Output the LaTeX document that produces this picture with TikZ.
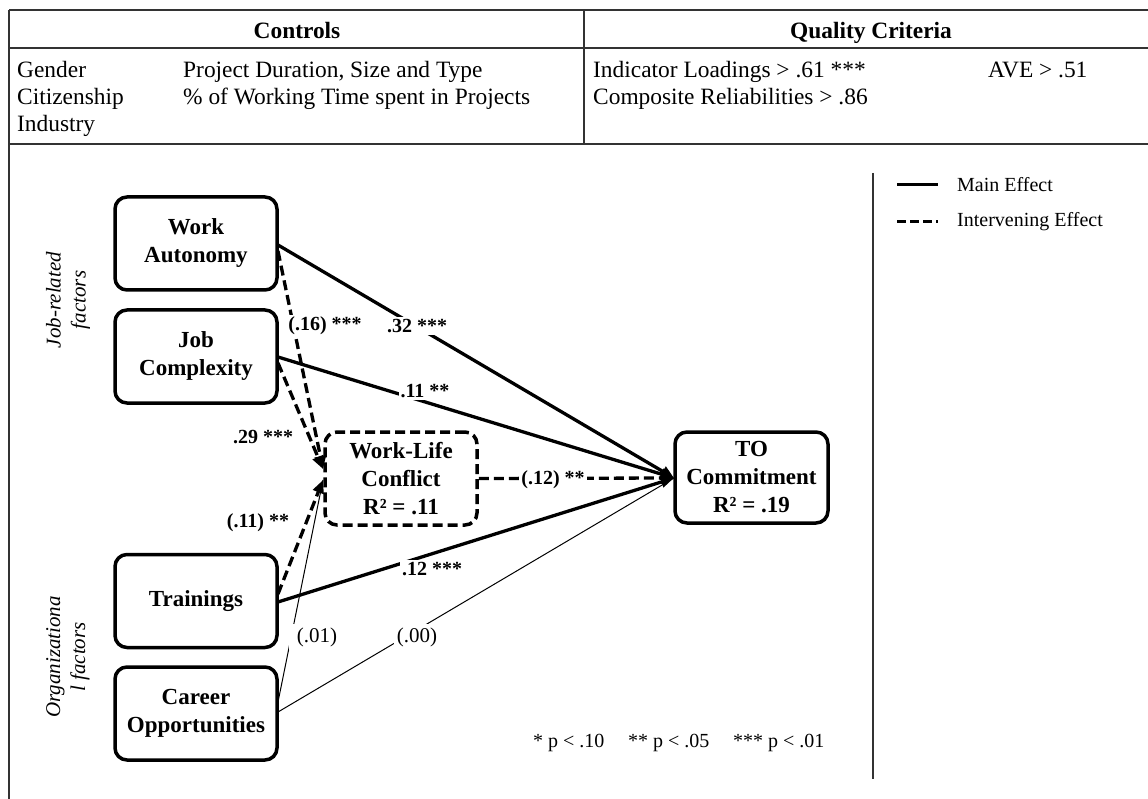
\documentclass[tikz,border=0pt]{standalone}
\usepackage{fontspec}
\setmainfont{Liberation Serif}
\usetikzlibrary{arrows.meta}
\begin{document}
\begin{tikzpicture}[x=1pt,y=-1pt,
  tline/.style={draw=black!80, line width=2pt},
  cell/.style={anchor=base west, inner sep=0pt, font=\fontsize{23.4}{27}\selectfont},
  head/.style={anchor=base, inner sep=0pt, font=\fontsize{23.4}{27}\selectfont\bfseries},
  box/.style={draw, line width=3.5pt, rounded corners=12pt, minimum width=162pt, minimum height=93pt, align=center, inner sep=0pt, font=\fontsize{23}{28}\selectfont\bfseries},
  mainarrow/.style={line width=3.3pt, -{Triangle[length=13pt,width=11pt]}},
  interarrow/.style={line width=3.3pt, dash pattern=on 10pt off 5pt, -{Triangle[length=13pt,width=11pt]}},
  thinarrow/.style={line width=1pt},
  blab/.style={fill=white, inner sep=2pt, font=\fontsize{20}{24}\selectfont\bfseries},
  rlab/.style={fill=white, inner sep=3pt, font=\fontsize{21}{24}\selectfont},
  side/.style={rotate=90, align=center, inner sep=0pt, font=\fontsize{21}{25}\selectfont\itshape},
  note/.style={anchor=west, inner sep=0pt, font=\fontsize{20}{24}\selectfont}
]
\useasboundingbox (0,0) rectangle (1148,799);
\fill[white] (0,0) rectangle (1148,799);

% table
\draw[tline] (9,10) -- (1148,10);
\draw[tline] (9,48) -- (1148,48);
\draw[tline] (9,144) -- (1148,144);
\draw[tline] (9,10) -- (9,799);
\draw[tline] (584,10) -- (584,144);

\node[head] (hc) at (297,39) {Controls};
\node[head] (hq) at (871,39) {Quality Criteria};
\node[cell] (c1) at (17,78) {Gender};
\node[cell] (c2) at (17,105) {Citizenship};
\node[cell] (c3) at (17,132) {Industry};
\node[cell] (c4) at (183,78) {Project Duration, Size and Type};
\node[cell] (c5) at (183,105) {\% of Working Time spent in Projects};
\node[cell] (q1) at (593,78) {Indicator Loadings > .61 ***};
\node[cell] (q2) at (593,105) {Composite Reliabilities > .86};
\node[cell] (q3) at (988,78) {AVE > .51};

% side labels
\node[side] (jr) at (68,300) {Job-related\\factors};
\node[side] (of) at (68,657) {Organizationa\\l factors};

% boxes
\node[box] (wa) at (196,243.5) {Work\\Autonomy};
\node[box] (jc) at (196,356.5) {Job\\Complexity};
\node[box] (tr) at (196,601) {Trainings};
\node[box] (co) at (196,713.5) {Career\\Opportunities};
\node[box, dash pattern=on 10pt off 5pt, minimum width=152pt] (wlc) at (401,478.5) {Work-Life\\Conflict\\R² = .11};
\node[box, minimum width=153pt, minimum height=91pt] (to) at (751.5,477.5) {TO\\Commitment\\R² = .19};

% anchor coordinates
\coordinate (toin) at (674,478);
\coordinate (wlcdown) at (323,469);
\coordinate (wlcup) at (323,480);
\coordinate (wa1) at (278,245);
\coordinate (wa2) at (278,251);
\coordinate (jc1) at (278,357);
\coordinate (jc2) at (278,363);
\coordinate (tr1) at (278,602);
\coordinate (tr2) at (278,594);
\coordinate (co1) at (278,712);
\coordinate (co2) at (278,702);

% connectors
\draw[mainarrow] (wa1) -- (toin);
\draw[mainarrow] (jc1) -- (toin);
\draw[mainarrow] (tr1) -- (toin);
\draw[thinarrow] (co1) -- (toin);
\draw[interarrow] (wlc.east) -- (toin);
\draw[interarrow] (wa2) -- (wlcdown);
\draw[interarrow] (jc2) -- (wlcdown);
\draw[interarrow] (tr2) -- (wlcup);
\draw[thinarrow] (co2) -- (wlcup);

% connector labels
\node[blab] (l1) at (417,326) {.32 ***};
\node[blab] (l2) at (325,326) {(.16) ***};
\node[blab] (l3) at (425,391) {.11 **};
\node[blab, fill=none] (l4) at (263,437) {.29 ***};
\node[blab] (l5) at (553,480) {(.12) **};
\node[blab, fill=none] (l6) at (258,523) {(.11) **};
\node[blab] (l7) at (432,569) {.12 ***};
\node[rlab, inner xsep=8pt] (l8) at (317,637) {(.01)};
\node[rlab] (l9) at (417,637) {(.00)};

% legend
\draw[line width=1.5pt, draw=black!80] (873,173) -- (873,779);
\draw[line width=3pt] (897,185) -- (938,185);
\draw[line width=3pt, dash pattern=on 9pt off 4pt] (897,222) -- (938,222);
\node[note] (le1) at (957,185) {Main Effect};
\node[note] (le2) at (957,222) {Intervening Effect};

% significance
\node[note] (s1) at (533,743) {* p < .10};
\node[note] (s2) at (628,743) {** p < .05};
\node[note] (s3) at (733,743) {*** p < .01};
\end{tikzpicture}
\end{document}
